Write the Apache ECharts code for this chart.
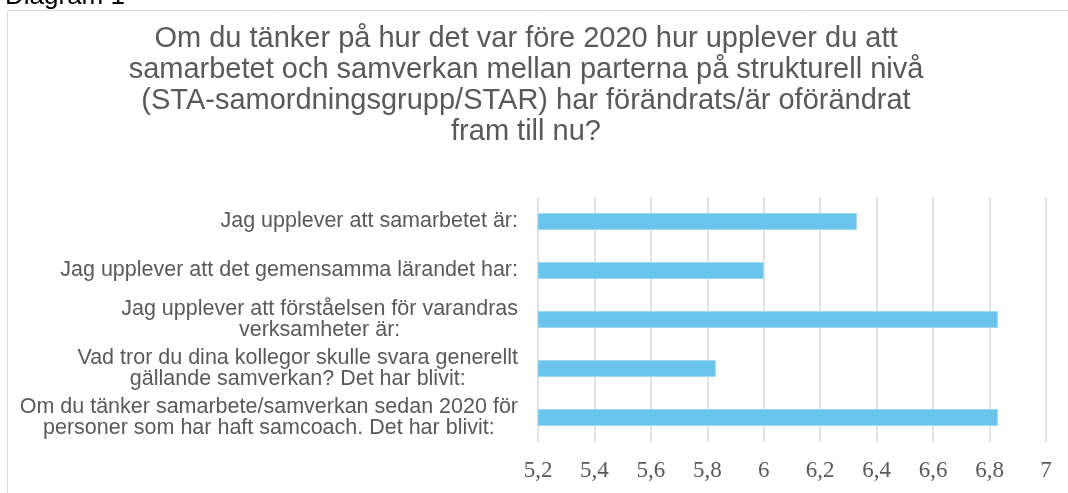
<!DOCTYPE html>
<html>
<head>
<meta charset="utf-8">
<script src="https://cdn.jsdelivr.net/npm/echarts@6/dist/echarts.min.js"></script>
<style>
html,body{margin:0;padding:0;background:#fff;}
#chart{width:1068px;height:493px;}
</style>
</head>
<body>
<div id="chart"></div>
<script>
const pageLabel = 'Diagram 1';
const titleText = 'Om du tänker på hur det var före 2020 hur upplever du att\nsamarbetet och samverkan mellan parterna på strukturell nivå\n(STA-samordningsgrupp/STAR) har förändrats/är oförändrat\nfram till nu?';
const categories = [
  'Jag upplever att samarbetet är:',
  'Jag upplever att det gemensamma lärandet har:',
  'Jag upplever att förståelsen för varandras\nverksamheter är:',
  'Vad tror du dina kollegor skulle svara generellt\ngällande samverkan? Det har blivit:',
  'Om du tänker samarbete/samverkan sedan 2020 för\npersoner som har haft samcoach. Det har blivit:'
];
const values = [6.33, 6.0, 6.83, 5.83, 6.83];
const axisMin = 5.2;
const axisMax = 7;
const axisStep = 0.2;

const chart = echarts.init(document.getElementById('chart'), null, {renderer: 'canvas'});
chart.setOption({
  animation: false,
  backgroundColor: '#ffffff',
  graphic: [{
    type: 'rect',
    shape: {x: 7.5, y: 10.5, width: 1200, height: 700},
    style: {fill: 'none', stroke: '#d9d9d9', lineWidth: 1},
    silent: true,
    z: -1
  }],
  title: [{
    text: pageLabel,
    left: 0,
    top: -21,
    textStyle: {fontFamily: 'Liberation Sans, Arial, sans-serif', fontSize: 26, fontWeight: 'normal', color: '#000000'}
  }, {
    text: titleText,
    left: 521,
    top: 18,
    textAlign: 'center',
    textStyle: {fontFamily: 'Liberation Sans, Arial, sans-serif', fontSize: 29, fontWeight: 'normal', color: '#595959', lineHeight: 31}
  }],
  grid: {left: 538, right: 22, top: 197, bottom: 51, containLabel: false},
  xAxis: {
    type: 'value',
    min: axisMin,
    max: axisMax,
    interval: axisStep,
    axisLine: {show: false},
    axisTick: {show: false},
    splitLine: {show: true, lineStyle: {color: '#d9d9d9', width: 1.5}},
    axisLabel: {
      margin: 17,
      fontFamily: 'Liberation Serif, Times New Roman, serif',
      fontSize: 23,
      color: '#595959',
      formatter: v => String(Math.round(v * 10) / 10).replace('.', ',')
    }
  },
  yAxis: {
    type: 'category',
    data: categories,
    inverse: true,
    axisLine: {show: false},
    axisTick: {show: false},
    splitLine: {show: false},
    axisLabel: {
      margin: 20,
      fontFamily: 'Liberation Sans, Arial, sans-serif',
      fontSize: 21.5,
      lineHeight: 21,
      color: '#595959',
      formatter: s => s.split('\n').map(l => '{c|' + l + '}').join('\n'),
      rich: {c: {align: 'center', fontFamily: 'Liberation Sans, Arial, sans-serif', fontSize: 21.5, lineHeight: 21, color: '#595959'}}
    }
  },
  series: [{
    type: 'bar',
    data: values,
    barWidth: 17,
    itemStyle: {color: '#68c4ea', borderColor: '#9fd8f2', borderWidth: 1}
  }]
});
</script>
</body>
</html>
